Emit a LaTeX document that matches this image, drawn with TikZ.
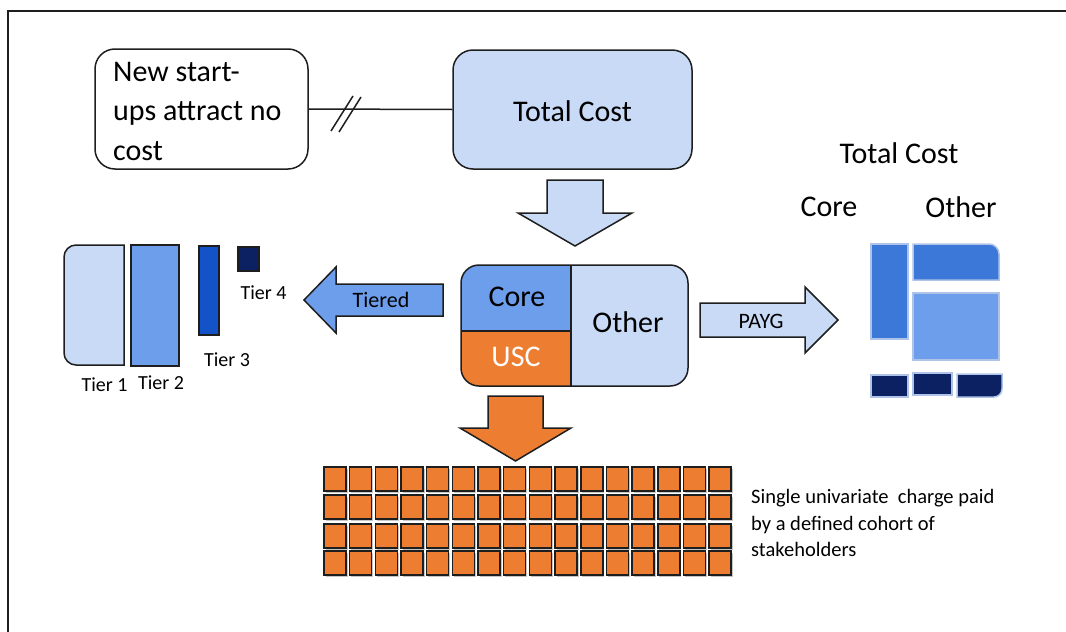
\documentclass[tikz,border=0pt]{standalone}
\usepackage{fontspec}
\setmainfont{Carlito}
\definecolor{lightb}{HTML}{C8DAF6}
\definecolor{midb}{HTML}{6D9EEB}
\definecolor{stackb}{HTML}{3C78D8}
\definecolor{tierthree}{HTML}{1452C8}
\definecolor{navy}{HTML}{0B2161}
\definecolor{orng}{HTML}{ED7D31}
\definecolor{dark}{HTML}{1E1E1E}
\definecolor{stackline}{HTML}{AFC3E8}
\tikzset{
  outl/.style={draw=dark, line width=1.5},
  bigtxt/.style={font=\fontsize{30}{39.5}\selectfont, inner sep=0},
  midtxt/.style={font=\fontsize{22}{26}\selectfont, inner sep=0},
  smalltxt/.style={font=\fontsize{20}{26.5}\selectfont, inner sep=0},
  stackpart/.style={draw=stackline, line width=1.5},
}
\begin{document}
\begin{tikzpicture}[x=1pt,y=-1pt]
\useasboundingbox (0,0) rectangle (1066,632);
% frame
\draw[dark, line width=2] (8,632) -- (8,10.5) -- (1066,10.5);

% top boxes
\node (nsu) [outl, rounded corners=20, minimum width=213, minimum height=120, inner sep=0] at (201.5,109) {};
\node (nsutxt) [bigtxt, anchor=west, align=left] at (113,111) {New start-\\ups attract no\\cost};
\node (tc) [outl, fill=lightb, rounded corners=20, minimum width=239, minimum height=119, inner sep=0] at (572.5,109.5) {};
\node (tctxt) [bigtxt] at (572.5,111) {Total Cost};
\draw[dark, line width=1.5] (nsu.east) -- (tc.west);
\draw[dark, line width=1.5] (331,131) -- (353,96);
\draw[dark, line width=1.5] (339,132) -- (361,97);

% light blue down arrow
\draw[outl, fill=lightb] (547,180) -- (603,180) -- (603,213) -- (632,213) -- (575,246) -- (518,213) -- (547,213) -- cycle;

% centre box
\begin{scope}
\clip[rounded corners=18] (461,265) rectangle (688,386);
\fill[lightb] (461,265) rectangle (688,386);
\fill[midb] (461,265) rectangle (571,331);
\fill[orng] (461,331) rectangle (571,386);
\end{scope}
\node (mid) [outl, rounded corners=18, minimum width=227, minimum height=121, inner sep=0] at (574.5,325.5) {};
\draw[outl] (571,265) -- (571,386);
\draw[outl] (461,331) -- (571,331);
\node (core) [bigtxt] at (517,297) {Core};
\node (usc) [bigtxt, text=white] at (516,357) {USC};
\node (other) [bigtxt] at (628,322) {Other};

% orange down arrow
\draw[outl, fill=orng] (488,396) -- (543,396) -- (543,428) -- (571,428) -- (515.5,461) -- (460,428) -- (488,428) -- cycle;

% Tiered arrow
\draw[outl, fill=midb] (443,284) -- (336,284) -- (336,267) -- (304,300) -- (336,333) -- (336,316) -- (443,316) -- cycle;
\node (tiered) [midtxt] at (381,300) {Tiered};

% tiers
\draw[outl, fill=lightb] (124,245) -- (76,245) .. controls (69.4,245) and (64,250.4) .. (64,257) -- (64,353) .. controls (64,359.6) and (69.4,365) .. (76,365) -- (124,365) -- cycle;
\draw[outl, fill=midb] (131,245) rectangle (179,366);
\draw[outl, fill=tierthree] (199,246) rectangle (219,335);
\draw[outl, fill=navy] (238,247) rectangle (259,271);
\node (t1) [smalltxt] at (104.5,385) {Tier 1};
\node (t2) [smalltxt] at (161,383) {Tier 2};
\node (t3) [smalltxt] at (227,360) {Tier 3};
\node (t4) [smalltxt] at (263.5,293) {Tier 4};

% PAYG arrow
\draw[outl, fill=lightb] (700,303) -- (805,303) -- (805,287) -- (838,320) -- (805,353) -- (805,337) -- (700,337) -- cycle;
\node (payg) [midtxt] at (761,321) {PAYG};

% right stack
\node (rtc) [bigtxt] at (899,153) {Total Cost};
\node (rcore) [bigtxt] at (829,207) {Core};
\node (rother) [bigtxt] at (961,207) {Other};
\draw[stackpart, fill=stackb] (871,244) rectangle (908,339);
\draw[stackpart, fill=stackb] (913,244) -- (989,244) .. controls (994.5,244) and (999,248.5) .. (999,254) -- (999,280) -- (913,280) -- cycle;
\draw[stackpart, fill=midb] (913,293) rectangle (999,360);
\draw[stackpart, fill=navy] (871,375) rectangle (908,397);
\draw[stackpart, fill=navy] (913,373) rectangle (952,395);
\draw[stackpart, fill=navy] (957,374) -- (1002,374) -- (1002,389) .. controls (1002,393.4) and (998.4,397) .. (994,397) -- (957,397) -- cycle;

% grid of charges
\foreach \c in {0,...,15}{
  \foreach \yy in {467,495,524,551}{
    \fill[gray!45] ({324+25.67*\c+1.5},{\yy+1.5}) rectangle ++(22,24);
    \draw[dark, line width=1.6, fill=orng] ({324+25.67*\c},\yy) rectangle ++(22,24);
  }
}
\node (single) [font=\fontsize{20.5}{26.5}\selectfont, inner sep=0, anchor=west, align=left] at (751,523) {Single univariate~ charge paid\\by a defined cohort of\\stakeholders};
\end{tikzpicture}
\end{document}
